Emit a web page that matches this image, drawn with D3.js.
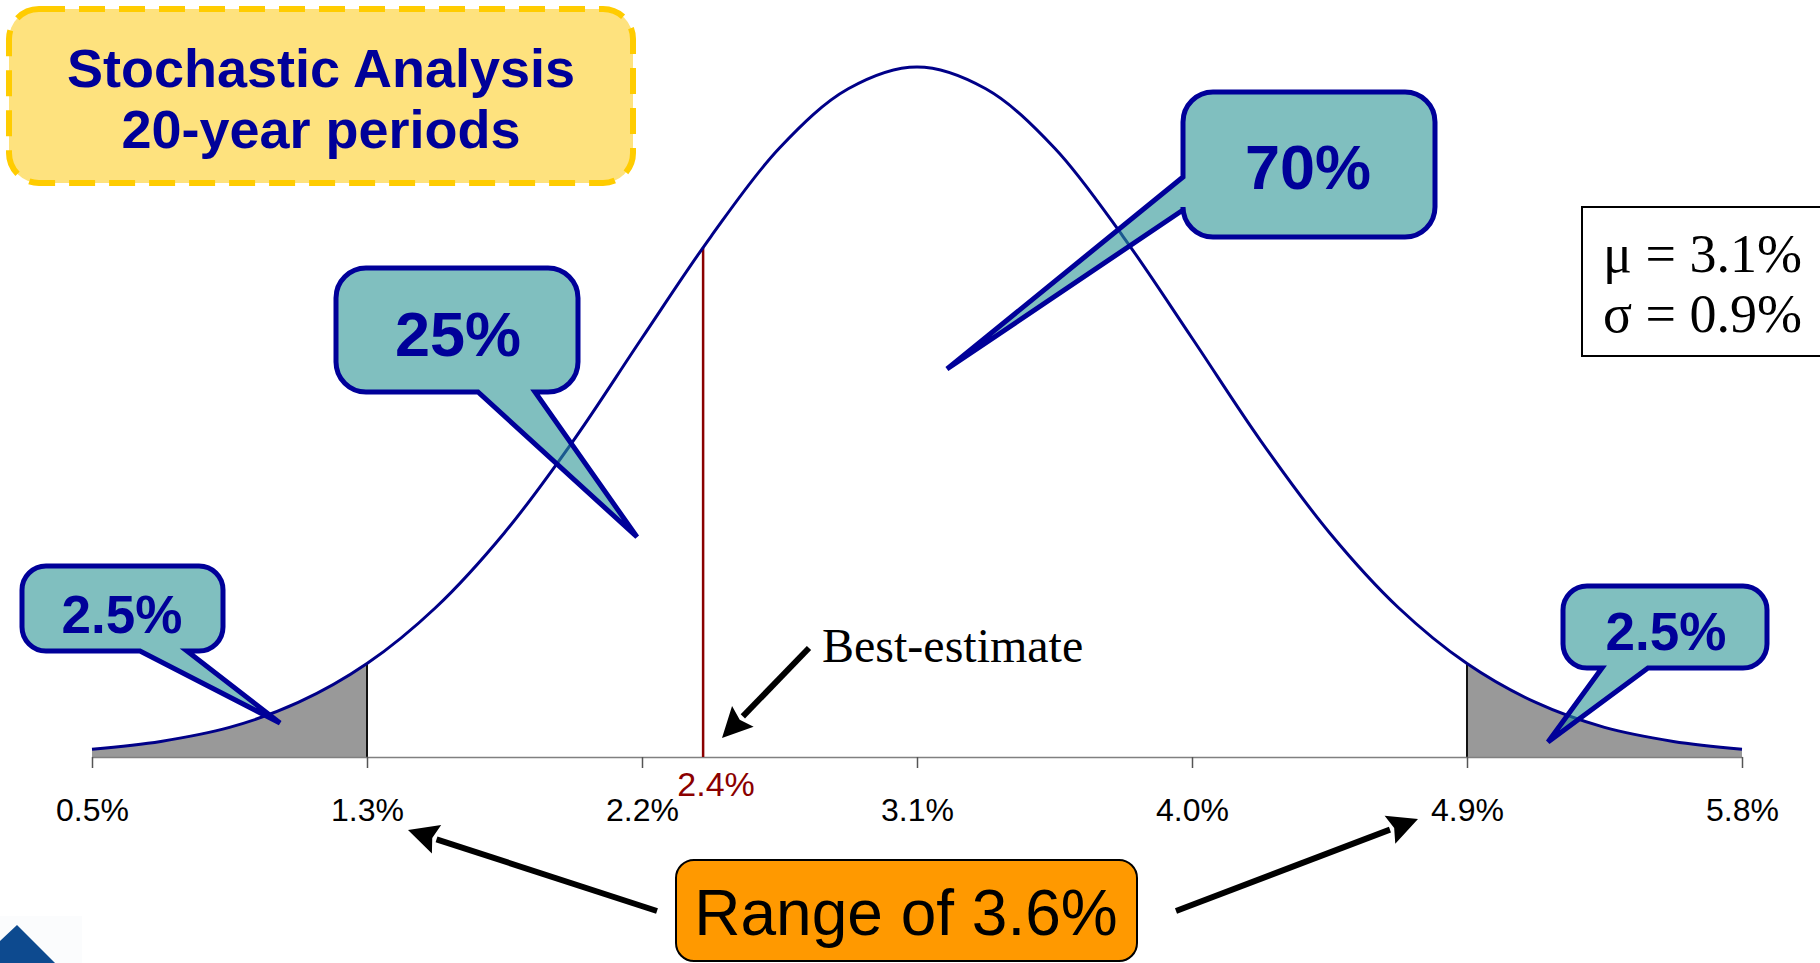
<!DOCTYPE html>
<html>
<head>
<meta charset="utf-8">
<script src="https://cdn.jsdelivr.net/npm/d3@7"></script>
<style>
  html, body { margin: 0; padding: 0; background: #ffffff; }
  svg { display: block; }
</style>
</head>
<body>
<svg id="chart" width="1820" height="963"></svg>
<script>
// Distribution parameters (percent)
const mu = 3.1;
const sigma = 0.9;
const bestEstimate = 2.4;

// Axis ticks, in standard deviations from the mean, and their labels
const tickZ = [-3, -2, -1, 0, 1, 2, 3];
const tickLabels = ["0.5%", "1.3%", "2.2%", "3.1%", "4.0%", "4.9%", "5.8%"];

// Density curve sampled every quarter standard deviation
const curveZ = [-3, -2.75, -2.5, -2.25, -2, -1.75, -1.5, -1.25, -1, -0.75, -0.5, -0.25, 0,
                0.25, 0.5, 0.75, 1, 1.25, 1.5, 1.75, 2, 2.25, 2.5, 2.75, 3];
const curveDensity = [0.005, 0.010, 0.019, 0.035, 0.060, 0.096, 0.144, 0.203, 0.269, 0.334, 0.391, 0.429, 0.443,
                      0.429, 0.391, 0.334, 0.269, 0.203, 0.144, 0.096, 0.060, 0.035, 0.019, 0.010, 0.005];

// Shaded tails (z ranges) and probability call-outs
const tailRanges = [[-3, -2], [2, 3]];
const calloutLabels = ["2.5%", "25%", "70%", "2.5%"];

const svg = d3.select("#chart");

const x = d3.scaleLinear().domain([-3, 3]).range([92, 1742]);
const y = d3.scaleLinear().domain([0, 0.443]).range([757, 67]);

const pts = curveZ.map((z, i) => ({ z, d: curveDensity[i] }));
const curve = d3.curveCatmullRom.alpha(0.5);

function densityAt(z) {
  const i = d3.bisectRight(curveZ, z) - 1;
  const j = Math.min(i + 1, curveZ.length - 1);
  if (i === j) return curveDensity[i];
  const t = (z - curveZ[i]) / (curveZ[j] - curveZ[i]);
  return curveDensity[i] + t * (curveDensity[j] - curveDensity[i]);
}

// ---- Title box ----
svg.append("rect")
  .attr("x", 9).attr("y", 9).attr("width", 624).attr("height", 174)
  .attr("rx", 30).attr("ry", 30)
  .attr("fill", "#fee27e")
  .attr("stroke", "#ffcc00").attr("stroke-width", 6)
  .attr("stroke-dasharray", "26 14");
const title = svg.append("text")
  .attr("text-anchor", "middle")
  .attr("font-family", "Liberation Sans, Arial, sans-serif")
  .attr("font-weight", "bold").attr("font-size", 54)
  .attr("fill", "#000099");
title.append("tspan").attr("x", 321).attr("y", 87).text("Stochastic Analysis");
title.append("tspan").attr("x", 321).attr("y", 148).text("20-year periods");

// ---- Shaded tails ----
const defs = svg.append("defs");
tailRanges.forEach((r, i) => {
  defs.append("clipPath").attr("id", "tail" + i)
    .append("rect")
    .attr("x", x(r[0])).attr("y", 0)
    .attr("width", x(r[1]) - x(r[0])).attr("height", y(0));
});

const area = d3.area().x(p => x(p.z)).y0(y(0)).y1(p => y(p.d)).curve(curve);
tailRanges.forEach((r, i) => {
  svg.append("path")
    .attr("d", area(pts))
    .attr("clip-path", `url(#tail${i})`)
    .attr("fill", "#999999");
});

// Tail boundaries
[-2, 2].forEach(z => {
  svg.append("line")
    .attr("x1", x(z)).attr("x2", x(z))
    .attr("y1", y(0)).attr("y2", y(densityAt(z)))
    .attr("stroke", "#111").attr("stroke-width", 2);
});

// ---- Axis ----
const axis = d3.axisBottom(x)
  .tickValues(tickZ)
  .tickFormat((d, i) => tickLabels[i])
  .tickSize(11).tickSizeOuter(0).tickPadding(30);
const gAxis = svg.append("g").attr("transform", `translate(0,${y(0)})`).call(axis);
gAxis.select(".domain").attr("stroke", "#808080").attr("stroke-width", 1.5);
gAxis.selectAll(".tick line").attr("stroke", "#555").attr("stroke-width", 1.5);
gAxis.selectAll(".tick text")
  .attr("font-family", "Liberation Sans, Arial, sans-serif")
  .attr("font-size", 32).attr("fill", "#000");

// ---- Best estimate marker ----
const zBest = (bestEstimate - mu) / sigma;
svg.append("line")
  .attr("x1", x(zBest)).attr("x2", x(zBest))
  .attr("y1", y(0)).attr("y2", y(densityAt(zBest)))
  .attr("stroke", "#8b0000").attr("stroke-width", 2.5);
svg.append("text")
  .attr("x", x(zBest) + 13).attr("y", 796)
  .attr("text-anchor", "middle")
  .attr("font-family", "Liberation Sans, Arial, sans-serif")
  .attr("font-size", 34).attr("fill", "#8b0000")
  .text(bestEstimate.toFixed(1) + "%");

// ---- Density curve ----
svg.append("path")
  .attr("d", d3.line().x(p => x(p.z)).y(p => y(p.d)).curve(curve)(pts))
  .attr("fill", "none")
  .attr("stroke", "#000088").attr("stroke-width", 3);

// ---- Call-outs ----
function calloutPath(b) {
  const { x0, y0, x1, y1, r, side, p0, p1, tip } = b;
  let d = `M${x0 + r},${y0} H${x1 - r} A${r},${r} 0 0 1 ${x1},${y0 + r} V${y1 - r} A${r},${r} 0 0 1 ${x1 - r},${y1}`;
  if (side === "bottom") d += ` H${p1} L${tip[0]},${tip[1]} L${p0},${y1}`;
  d += ` H${x0 + r} A${r},${r} 0 0 1 ${x0},${y1 - r}`;
  if (side === "left") d += ` V${p1} L${tip[0]},${tip[1]} L${x0},${p0}`;
  d += ` V${y0 + r} A${r},${r} 0 0 1 ${x0 + r},${y0} Z`;
  return d;
}

const callouts = [
  { x0: 22, y0: 566, x1: 223, y1: 651, r: 24, side: "bottom", p0: 140, p1: 187, tip: [280, 723],
    tx: 122, ty: 633, fs: 53 },
  { x0: 336, y0: 268, x1: 578, y1: 392, r: 30, side: "bottom", p0: 478, p1: 535, tip: [637, 537],
    tx: 458, ty: 356, fs: 63 },
  { x0: 1183, y0: 92, x1: 1435, y1: 237, r: 30, side: "left", p0: 177, p1: 210, tip: [947, 369],
    tx: 1308, ty: 189, fs: 63 },
  { x0: 1563, y0: 586, x1: 1767, y1: 668, r: 24, side: "bottom", p0: 1602, p1: 1648, tip: [1548, 742],
    tx: 1666, ty: 650, fs: 53 }
];

callouts.forEach((c, i) => {
  svg.append("path")
    .attr("d", calloutPath(c))
    .attr("fill", "rgb(43,148,148)").attr("fill-opacity", 0.6)
    .attr("stroke", "#000099").attr("stroke-width", 5)
    .attr("stroke-linejoin", "miter").attr("stroke-miterlimit", 6);
  svg.append("text")
    .attr("x", c.tx).attr("y", c.ty)
    .attr("text-anchor", "middle")
    .attr("font-family", "Liberation Sans, Arial, sans-serif")
    .attr("font-weight", "bold").attr("font-size", c.fs)
    .attr("fill", "#000099")
    .text(calloutLabels[i]);
});

// ---- Parameter box ----
svg.append("rect")
  .attr("x", 1582).attr("y", 207).attr("width", 260).attr("height", 149)
  .attr("fill", "#fff").attr("stroke", "#000").attr("stroke-width", 2);
const params = svg.append("text")
  .attr("font-family", "Liberation Serif, Times New Roman, serif")
  .attr("font-size", 54).attr("fill", "#000");
params.append("tspan").attr("x", 1603).attr("y", 272).text(`\u03bc = ${mu.toFixed(1)}%`);
params.append("tspan").attr("x", 1603).attr("y", 332).text(`\u03c3 = ${sigma.toFixed(1)}%`);

// ---- Arrows ----
function arrow(x1, y1, x2, y2, w) {
  const ang = Math.atan2(y2 - y1, x2 - x1);
  const len = 30, half = 15;
  const bx = x2 - len * Math.cos(ang), by = y2 - len * Math.sin(ang);
  svg.append("line")
    .attr("x1", x1).attr("y1", y1).attr("x2", bx).attr("y2", by)
    .attr("stroke", "#000").attr("stroke-width", w);
  const nx = -Math.sin(ang) * half, ny = Math.cos(ang) * half;
  svg.append("path")
    .attr("d", `M${x2},${y2} L${bx + nx},${by + ny} L${bx + len * 0.15 * Math.cos(ang)},${by + len * 0.15 * Math.sin(ang)} L${bx - nx},${by - ny} Z`)
    .attr("fill", "#000");
}

svg.append("text")
  .attr("x", 822).attr("y", 662)
  .attr("font-family", "Liberation Serif, Times New Roman, serif")
  .attr("font-size", 48).attr("fill", "#000")
  .text("Best-estimate");
arrow(809, 648, 722, 738, 6);

// Range annotation
svg.append("rect")
  .attr("x", 676).attr("y", 860).attr("width", 461).attr("height", 101)
  .attr("rx", 18).attr("ry", 18)
  .attr("fill", "#ff9900").attr("stroke", "#000").attr("stroke-width", 2);
svg.append("text")
  .attr("x", 906).attr("y", 935)
  .attr("text-anchor", "middle")
  .attr("font-family", "Liberation Sans, Arial, sans-serif")
  .attr("font-size", 64).attr("fill", "#000")
  .text("Range of 3.6%");
arrow(657, 911, 408, 830, 6);
arrow(1176, 911, 1418, 819, 6);

// ---- Corner logo ----
svg.append("rect").attr("x", 0).attr("y", 916).attr("width", 82).attr("height", 47).attr("fill", "#fbfcfd");
svg.append("path").attr("d", "M0,941 L17,925 L55,963 L0,963 Z").attr("fill", "#0d4a8f");
</script>
</body>
</html>
